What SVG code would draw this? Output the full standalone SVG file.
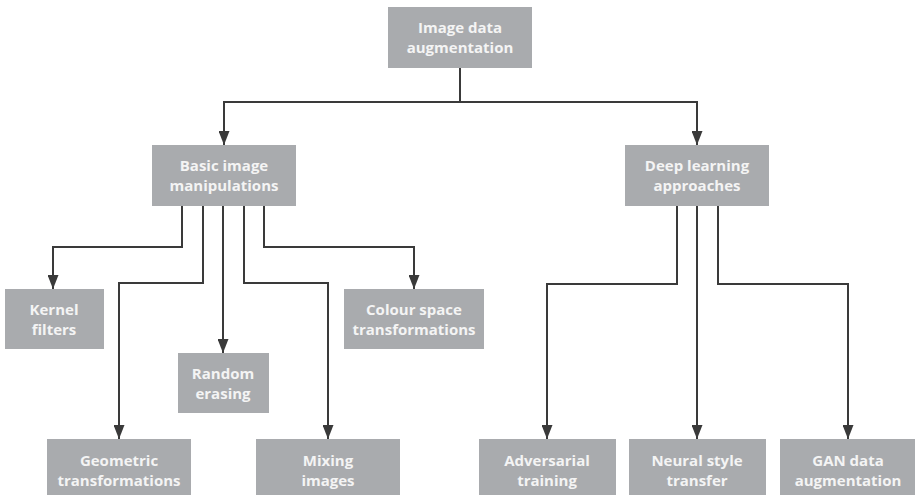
<svg xmlns="http://www.w3.org/2000/svg" width="915" height="495" viewBox="0 0 915 495">
  <style>
    .box { fill: #a9abae; }
    .lbl { font-family: "Open Sans", "Liberation Sans", sans-serif; font-weight: bold; font-size: 15px; fill: #f4f4f4; text-anchor: middle; }
    .wire { fill: none; stroke: #3a3a3a; stroke-width: 2; stroke-linejoin: miter; marker-end: url(#arrow); }
  </style>
  <defs>
    <marker id="arrow" markerUnits="userSpaceOnUse" markerWidth="14" markerHeight="11" refX="14" refY="5.5" orient="auto">
      <path d="M0,0 L14,5.5 L0,11 Z" fill="#3a3a3a"/>
    </marker>
  </defs>
  <rect width="915" height="495" fill="#ffffff"/>

  <g id="connectors">
    <path class="wire" d="M460,68 V102 H224 V145"/>
    <path class="wire" d="M460,102 H697 V145"/>
    <path class="wire" d="M182,206 V247 H53 V289"/>
    <path class="wire" d="M203,206 V283 H119 V439"/>
    <path class="wire" d="M223,206 V353"/>
    <path class="wire" d="M244,206 V283 H328 V439"/>
    <path class="wire" d="M264,206 V247 H414 V289"/>
    <path class="wire" d="M677,206 V284 H547 V439"/>
    <path class="wire" d="M697,206 V439"/>
    <path class="wire" d="M718,206 V284 H848 V439"/>
  </g>

  <g id="image-data-augmentation">
    <rect class="box" x="388" y="7" width="144" height="61"/>
    <text class="lbl" x="460" y="33">Image data</text>
    <text class="lbl" x="460" y="53">augmentation</text>
  </g>
  <g id="basic-image-manipulations">
    <rect class="box" x="152" y="145" width="144" height="61"/>
    <text class="lbl" x="224" y="171">Basic image</text>
    <text class="lbl" x="224" y="191">manipulations</text>
  </g>
  <g id="deep-learning-approaches">
    <rect class="box" x="625" y="145" width="144" height="61"/>
    <text class="lbl" x="697" y="171">Deep learning</text>
    <text class="lbl" x="697" y="191">approaches</text>
  </g>
  <g id="kernel-filters">
    <rect class="box" x="5" y="289" width="99" height="60"/>
    <text class="lbl" x="54" y="315">Kernel</text>
    <text class="lbl" x="54" y="335">filters</text>
  </g>
  <g id="colour-space-transformations">
    <rect class="box" x="344" y="289" width="140" height="60"/>
    <text class="lbl" x="414" y="315">Colour space</text>
    <text class="lbl" x="414" y="335">transformations</text>
  </g>
  <g id="random-erasing">
    <rect class="box" x="178" y="353" width="91" height="60"/>
    <text class="lbl" x="223" y="379">Random</text>
    <text class="lbl" x="223" y="399">erasing</text>
  </g>
  <g id="geometric-transformations">
    <rect class="box" x="47" y="439" width="144" height="56"/>
    <text class="lbl" x="119" y="466">Geometric</text>
    <text class="lbl" x="119" y="486">transformations</text>
  </g>
  <g id="mixing-images">
    <rect class="box" x="256" y="439" width="144" height="56"/>
    <text class="lbl" x="328" y="466">Mixing</text>
    <text class="lbl" x="328" y="486">images</text>
  </g>
  <g id="adversarial-training">
    <rect class="box" x="479" y="439" width="137" height="56"/>
    <text class="lbl" x="547" y="466">Adversarial</text>
    <text class="lbl" x="547" y="486">training</text>
  </g>
  <g id="neural-style-transfer">
    <rect class="box" x="629" y="439" width="137" height="56"/>
    <text class="lbl" x="697" y="466">Neural style</text>
    <text class="lbl" x="697" y="486">transfer</text>
  </g>
  <g id="gan-data-augmentation">
    <rect class="box" x="780" y="439" width="135" height="56"/>
    <text class="lbl" x="848" y="466">GAN data</text>
    <text class="lbl" x="848" y="486">augmentation</text>
  </g>
</svg>
